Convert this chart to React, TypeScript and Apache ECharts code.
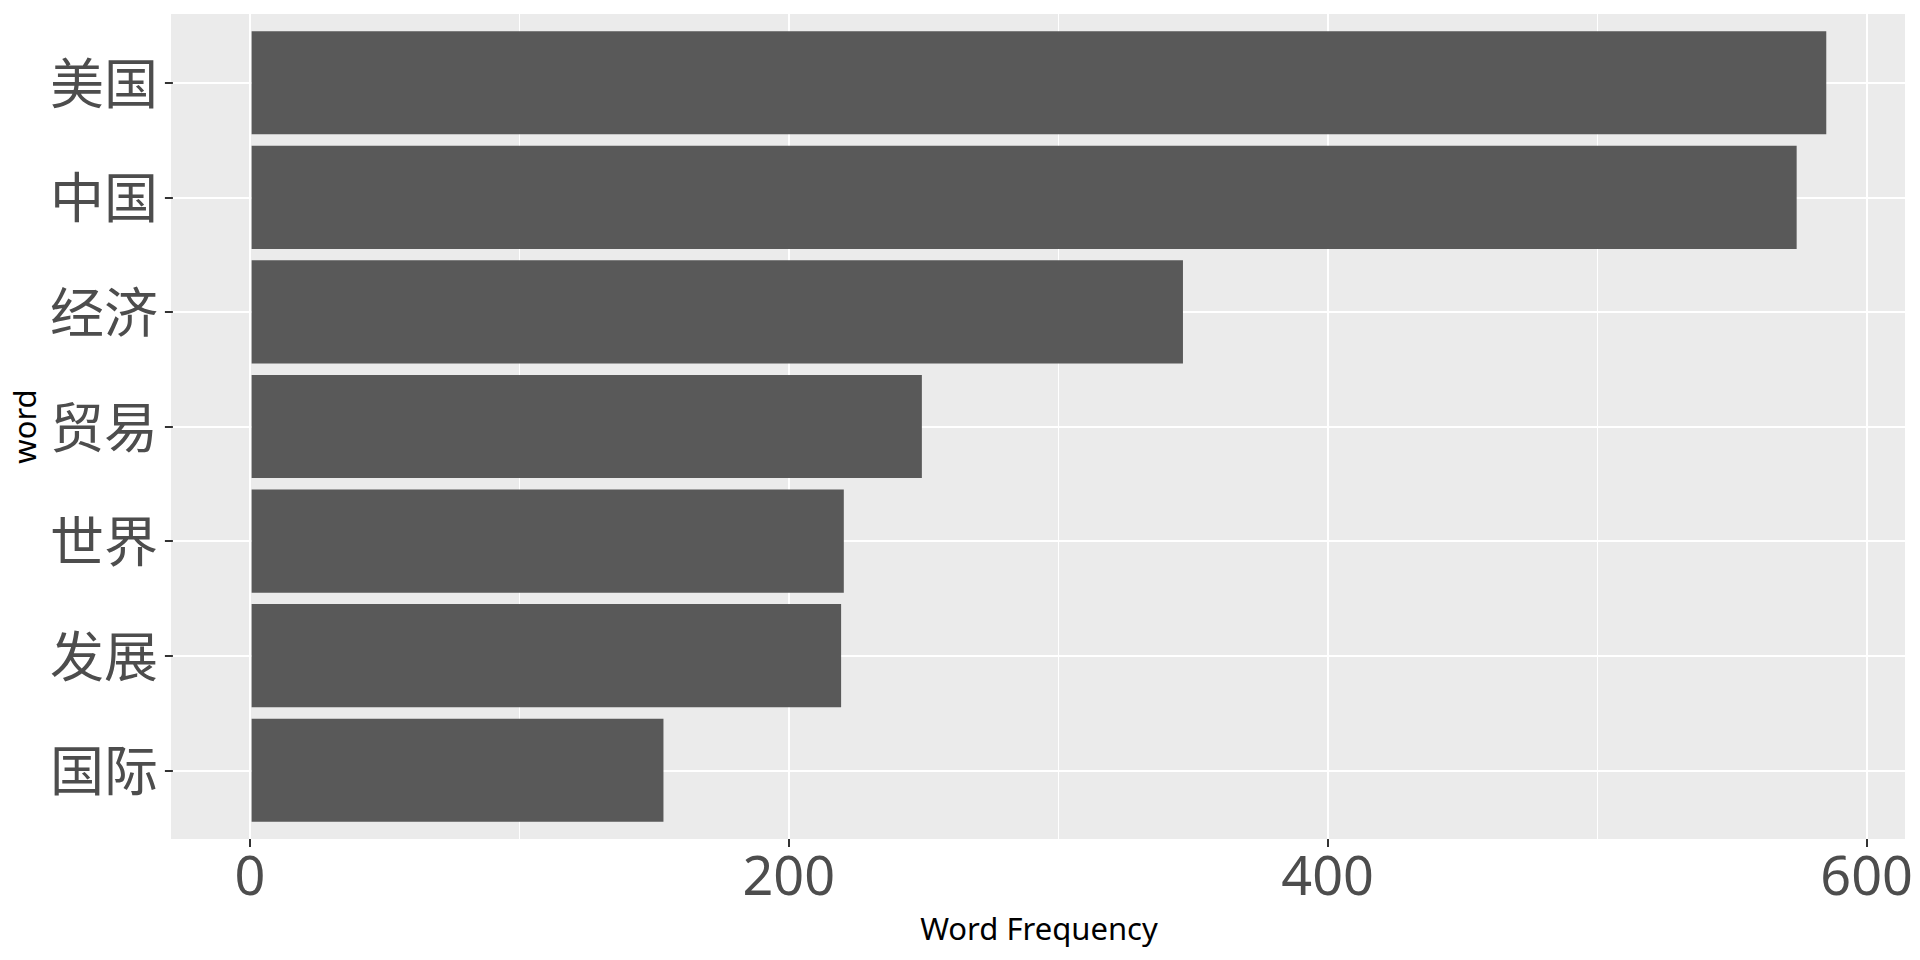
import React, { useEffect, useRef } from "react";
import * as echarts from "echarts";

// ---- data ----
const categories = ["美国", "中国", "经济", "贸易", "世界", "发展", "国际"];
const values = [585, 574, 346, 249, 220, 219, 153];
const xTicks = [0, 200, 400, 600];
const xTitle = "Word Frequency";
const yTitle = "word";

// ---- layout ----
const W = 1920;
const H = 960;
const PANEL = { left: 171, top: 14, right: 1905, bottom: 839 };
const FONT = "'Noto Sans', 'Noto Sans CJK SC', sans-serif";

export default function App() {
  const ref = useRef<HTMLDivElement>(null);

  useEffect(() => {
    if (!ref.current) return;
    const chart = echarts.init(ref.current, undefined, { renderer: "svg" });

    const maxV = Math.max(...values);
    const xmin = -0.05 * maxV;
    const xmax = 1.05 * maxV;
    const pw = PANEL.right - PANEL.left;
    const ph = PANEL.bottom - PANEL.top;
    const k = pw / (xmax - xmin);
    const tMin = xTicks[0];
    const tMax = xTicks[xTicks.length - 1];
    const tInt = xTicks[1] - xTicks[0];
    const gvLeft = PANEL.left + (tMin - xmin) * k;
    const gvWidth = (tMax - tMin) * k;
    const n = categories.length;
    const band = ph / (n + 0.2);
    const gbTop = PANEL.top + 0.6 * band;
    const gbHeight = (n - 1) * band;
    const bottomPad = PANEL.bottom - (gbTop + gbHeight);

    const option: any = {
      animation: false,
      backgroundColor: "#ffffff",
      textStyle: { fontFamily: FONT },
      graphic: [
        {
          type: "rect",
          z: -10,
          silent: true,
          shape: { x: PANEL.left, y: PANEL.top, width: pw, height: ph },
          style: { fill: "#EBEBEB" },
        },
      ],
      grid: [
        { left: PANEL.left, top: gbTop, width: pw, height: gbHeight, containLabel: false },
        { left: gvLeft, top: PANEL.top, width: gvWidth, height: ph, containLabel: false },
      ],
      xAxis: [
        {
          gridIndex: 0,
          type: "value",
          min: xmin,
          max: xmax,
          axisLine: { show: false, onZero: false },
          axisTick: { show: false },
          axisLabel: { show: false },
          splitLine: { show: false },
          name: xTitle,
          nameLocation: "middle",
          nameGap: bottomPad + 73,
          nameTextStyle: { fontSize: 31, color: "#000000", fontFamily: FONT },
        },
        {
          gridIndex: 1,
          type: "value",
          min: tMin,
          max: tMax,
          interval: tInt,
          position: "bottom",
          axisLine: { show: false, onZero: false },
          axisTick: { show: true, length: 8, lineStyle: { color: "#333333", width: 2 } },
          axisLabel: { fontSize: 54, color: "#4D4D4D", margin: 8, fontFamily: FONT },
          splitLine: { show: true, lineStyle: { color: "#ffffff", width: 2 } },
          minorTick: { show: false, splitNumber: 2 },
          minorSplitLine: { show: true, lineStyle: { color: "#ffffff", width: 1 } },
        },
      ],
      yAxis: [
        {
          gridIndex: 0,
          type: "category",
          data: categories,
          inverse: true,
          boundaryGap: false,
          position: "left",
          axisLine: { show: false, onZero: false },
          axisTick: { show: true, interval: 0, length: 8, lineStyle: { color: "#333333", width: 2 } },
          axisLabel: { interval: 0, fontSize: 54, color: "#4D4D4D", margin: 15, fontFamily: FONT },
          splitLine: { show: true, interval: 0, lineStyle: { color: "#ffffff", width: 2 } },
          name: yTitle,
          nameLocation: "middle",
          nameGap: 130,
          nameTextStyle: { fontSize: 31, color: "#000000", fontFamily: FONT },
        },
        { gridIndex: 1, type: "value", show: false, min: 0, max: 1 },
      ],
      series: [
        {
          type: "bar",
          xAxisIndex: 0,
          yAxisIndex: 0,
          data: values,
          barWidth: "90%",
          clip: false,
          itemStyle: { color: "#595959" },
        },
      ],
    };

    chart.setOption(option);
    return () => chart.dispose();
  }, []);

  return (
    <div
      ref={ref}
      style={{ position: "absolute", left: 0, top: 0, width: W, height: H }}
    />
  );
}
